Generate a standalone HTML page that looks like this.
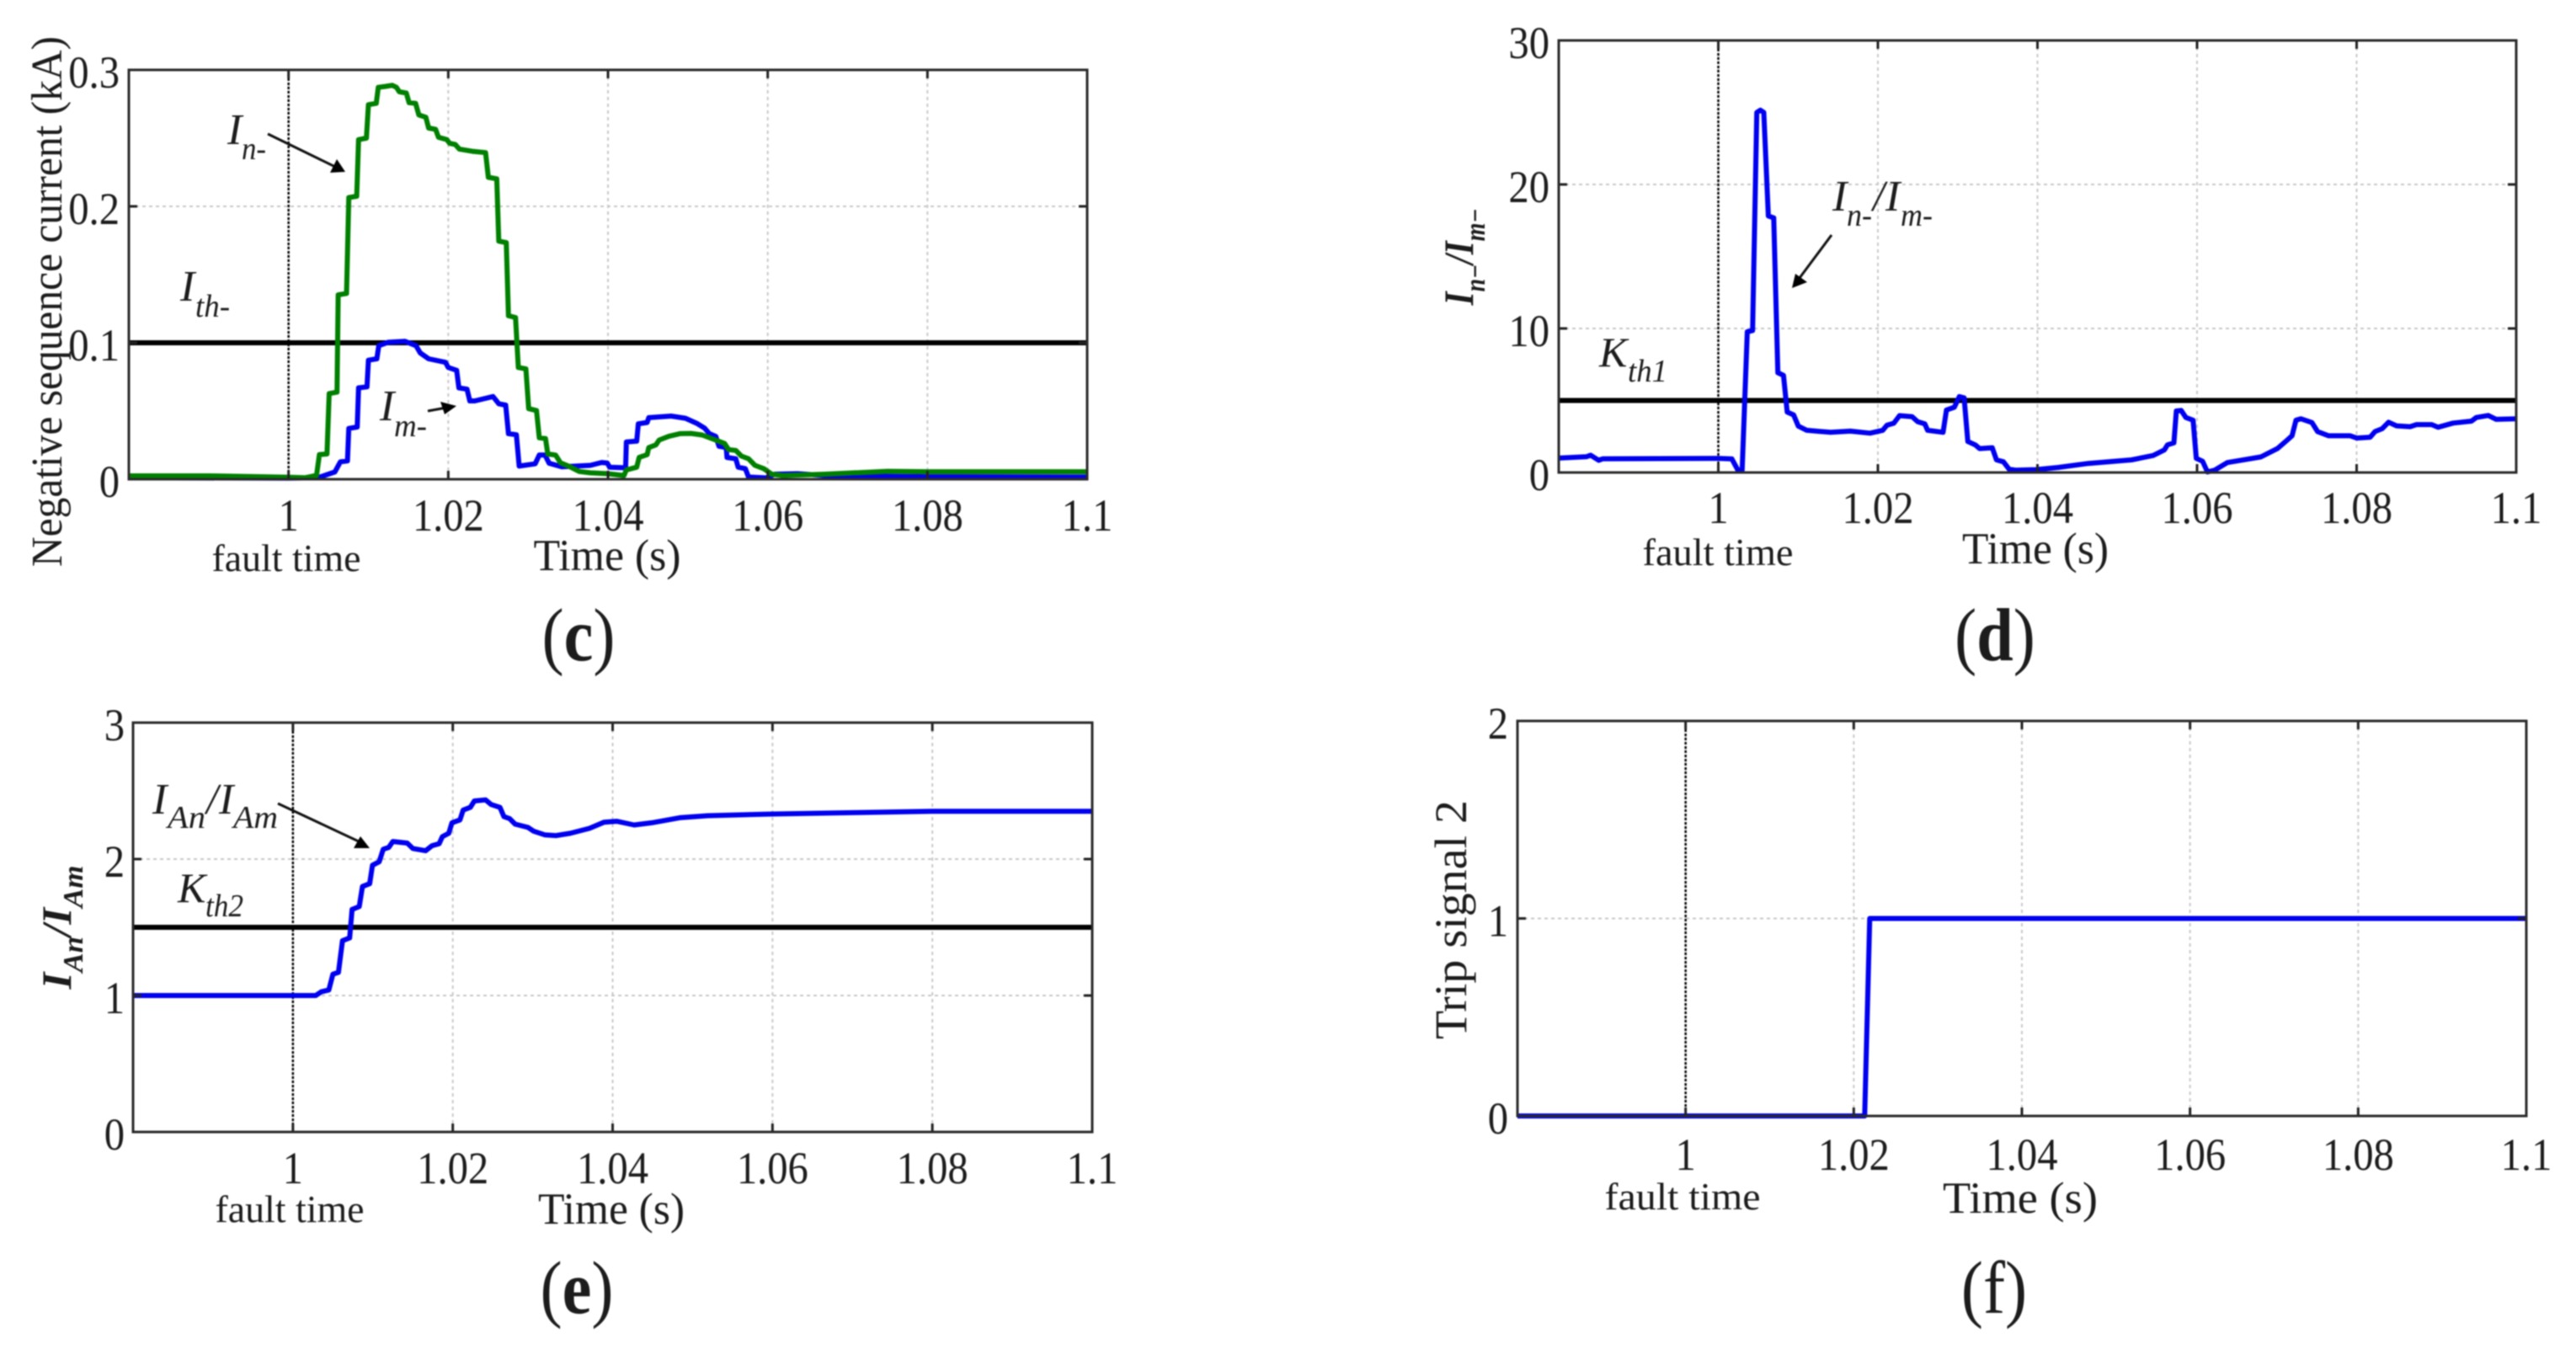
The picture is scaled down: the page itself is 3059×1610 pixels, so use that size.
<!DOCTYPE html>
<html lang="en">
<head>
<meta charset="utf-8">
<title>Fault protection signals</title>
<style>
html,body{margin:0;padding:0;background:#fff;}
svg{display:block;filter:blur(0.8px);}
text{font-family:"Liberation Serif",serif;fill:#1c1c1c;}
.it{font-style:italic;}
</style>
</head>
<body>
<svg id="figure" xmlns="http://www.w3.org/2000/svg" width="3059" height="1610" viewBox="0 0 3059 1610">
<rect width="3059" height="1610" fill="#fff"/>
<g id="charts"></g>

<!-- Panel c annotations -->
<g>
<text class="it" x="270" y="171" font-size="52">I</text>
<text class="it" x="287" y="189" font-size="38" textLength="29" lengthAdjust="spacingAndGlyphs">n-</text>
<line x1="318" y1="159" x2="400" y2="199" stroke="#111" stroke-width="3"/>
<polygon points="392,205 400,189 410,204" fill="#000"/>
</g>
<g>
<text class="it" x="214" y="357" font-size="52">I</text>
<text class="it" x="232" y="376" font-size="38" textLength="41" lengthAdjust="spacingAndGlyphs">th-</text>
</g>
<g>
<text class="it" x="451" y="499" font-size="52">I</text>
<text class="it" x="468" y="518" font-size="38" textLength="39" lengthAdjust="spacingAndGlyphs">m-</text>
<line x1="508" y1="488" x2="530" y2="484" stroke="#111" stroke-width="3"/>
<polygon points="523,477 542,482 528,492" fill="#000"/>
</g>

<!-- Panel d annotations -->
<g>
<text class="it" x="2176" y="250" font-size="52">I</text>
<text class="it" x="2193" y="268" font-size="38" textLength="30" lengthAdjust="spacingAndGlyphs">n-</text>
<text class="it" x="2224" y="250" font-size="52" textLength="14" lengthAdjust="spacingAndGlyphs">/</text>
<text class="it" x="2239" y="250" font-size="52">I</text>
<text class="it" x="2257" y="268" font-size="38" textLength="38" lengthAdjust="spacingAndGlyphs">m-</text>
<line x1="2175" y1="279" x2="2137" y2="330" stroke="#111" stroke-width="3"/>
<polygon points="2128,342 2132,325 2146,335" fill="#000"/>
</g>
<g>
<text class="it" x="1899" y="435" font-size="50">K</text>
<text class="it" x="1933" y="453" font-size="38" textLength="47" lengthAdjust="spacingAndGlyphs">th1</text>
</g>

<!-- Panel e annotations -->
<g>
<text class="it" x="181" y="966" font-size="52">I</text>
<text class="it" x="199" y="983" font-size="38" textLength="45" lengthAdjust="spacingAndGlyphs">An</text>
<text class="it" x="245" y="966" font-size="52" textLength="14" lengthAdjust="spacingAndGlyphs">/</text>
<text class="it" x="260" y="966" font-size="52">I</text>
<text class="it" x="277" y="983" font-size="38" textLength="53" lengthAdjust="spacingAndGlyphs">Am</text>
<line x1="330" y1="954" x2="428" y2="1000" stroke="#111" stroke-width="3"/>
<polygon points="420,1007 428,993 439,1007" fill="#000"/>
</g>
<g>
<text class="it" x="211" y="1071" font-size="50">K</text>
<text class="it" x="244" y="1088" font-size="38" textLength="45" lengthAdjust="spacingAndGlyphs">th2</text>
</g>

<!-- Y axis titles -->
<text transform="translate(73,358) rotate(-90)" text-anchor="middle" font-size="52" textLength="630" lengthAdjust="spacingAndGlyphs">Negative sequence current (kA)</text>
<text transform="translate(1749,305) rotate(-90)" text-anchor="middle" font-size="50" font-weight="700" font-style="italic" textLength="115" lengthAdjust="spacingAndGlyphs">I<tspan font-size="34" dy="14">n−</tspan><tspan dy="-14">/I</tspan><tspan font-size="34" dy="14">m−</tspan></text>
<text transform="translate(84,1101) rotate(-90)" text-anchor="middle" font-size="50" font-weight="700" font-style="italic" textLength="147" lengthAdjust="spacingAndGlyphs">I<tspan font-size="34" dy="14">An</tspan><tspan dy="-14">/I</tspan><tspan font-size="34" dy="14">Am</tspan></text>
<text transform="translate(1741,1092) rotate(-90)" text-anchor="middle" font-size="54" textLength="284" lengthAdjust="spacingAndGlyphs">Trip signal 2</text>

<!-- Fault time labels and x axis titles -->
<text x="340" y="678" text-anchor="middle" font-size="46" textLength="177" lengthAdjust="spacingAndGlyphs">fault time</text>
<text x="2040" y="671" text-anchor="middle" font-size="46" textLength="179" lengthAdjust="spacingAndGlyphs">fault time</text>
<text x="344" y="1451" text-anchor="middle" font-size="46" textLength="177" lengthAdjust="spacingAndGlyphs">fault time</text>
<text x="1998" y="1436" text-anchor="middle" font-size="46" textLength="185" lengthAdjust="spacingAndGlyphs">fault time</text>
<text x="721" y="677" text-anchor="middle" font-size="53" textLength="175" lengthAdjust="spacingAndGlyphs">Time (s)</text>
<text x="2417" y="669" text-anchor="middle" font-size="53" textLength="174" lengthAdjust="spacingAndGlyphs">Time (s)</text>
<text x="726" y="1453" text-anchor="middle" font-size="53" textLength="174" lengthAdjust="spacingAndGlyphs">Time (s)</text>
<text x="2399" y="1440" text-anchor="middle" font-size="53" textLength="184" lengthAdjust="spacingAndGlyphs">Time (s)</text>

<!-- Panel captions -->
<text transform="translate(687,784) scale(0.88,1)" text-anchor="middle" font-size="89">(<tspan font-weight="700">c</tspan>)</text>
<text transform="translate(2369,784) scale(0.88,1)" text-anchor="middle" font-size="89">(<tspan font-weight="700">d</tspan>)</text>
<text transform="translate(685,1559) scale(0.88,1)" text-anchor="middle" font-size="89">(<tspan font-weight="700">e</tspan>)</text>
<text transform="translate(2368,1559) scale(0.88,1)" text-anchor="middle" font-size="89">(f)</text>
</svg>

<script>
// Shared axis values
const xTicks = [1, 1.02, 1.04, 1.06, 1.08, 1.1];
const xTickLabels = ['1', '1.02', '1.04', '1.06', '1.08', '1.1'];
const xMin = 0.98;
const xMax = 1.1;
const faultTime = 1;

// Panel c values
const cYTicks = [0, 0.1, 0.2, 0.3];
const cYTickLabels = ['0', '0.1', '0.2', '0.3'];
const cThreshold = 0.1;
const cBlueTime = [0.98,1.0,1.00368,1.00579,1.00649,1.00737,1.00754,1.0086,1.00877,1.00982,1.01,1.01105,1.0113,1.01246,1.01456,1.01596,1.01649,1.01754,1.01965,1.02,1.02105,1.02133,1.02235,1.0227,1.02333,1.02561,1.02632,1.02719,1.02754,1.02853,1.02888,1.03088,1.0314,1.03211,1.03263,1.03421,1.0378,1.0392,1.0399,1.0402,1.0422,1.0423,1.0436,1.0438,1.0449,1.0451,1.0479,1.0497,1.0511,1.0521,1.0527,1.0535,1.0539,1.0548,1.0549,1.056,1.0563,1.0572,1.0576,1.0598,1.0609,1.0637,1.0672,1.08,1.1];
const cBlueValue = [0.001,0.0008,0.0011,0.0053,0.0128,0.0134,0.0372,0.0383,0.067,0.0677,0.0872,0.0883,0.0979,0.1004,0.1011,0.0979,0.0926,0.0883,0.0857,0.0819,0.0798,0.067,0.066,0.0574,0.0574,0.0606,0.0553,0.0543,0.0334,0.0326,0.0096,0.0113,0.0177,0.0177,0.0117,0.0091,0.0102,0.0123,0.0119,0.0088,0.0084,0.0273,0.0279,0.0406,0.0416,0.0451,0.0463,0.0447,0.041,0.0375,0.0334,0.0314,0.0242,0.0232,0.016,0.015,0.0088,0.0078,0.0016,0.001,0.0037,0.0041,0.0027,0.0018,0.0016];
const cGreenTime = [0.98,0.99,1.0,1.0021,1.0035,1.00386,1.00481,1.00509,1.00607,1.00621,1.00726,1.00754,1.00853,1.00877,1.00975,1.01,1.01098,1.01123,1.01211,1.01298,1.01351,1.01386,1.01474,1.01509,1.0159,1.01632,1.01719,1.01754,1.01842,1.01877,1.01982,1.02018,1.02088,1.0214,1.02298,1.02467,1.02502,1.02607,1.02632,1.02726,1.02754,1.02842,1.02877,1.02972,1.03007,1.03105,1.0314,1.03218,1.03246,1.03344,1.03404,1.03526,1.0364,1.0378,1.0399,1.042,1.0423,1.0436,1.0439,1.0449,1.0451,1.046,1.0464,1.0476,1.049,1.0504,1.0518,1.0532,1.0546,1.0551,1.056,1.0567,1.0576,1.0584,1.0595,1.0605,1.0619,1.0672,1.075,1.08,1.1];
const cGreenValue = [0.0025,0.0025,0.0015,0.0011,0.0028,0.0181,0.0185,0.0628,0.0638,0.1351,0.1362,0.2064,0.2074,0.2489,0.25,0.2745,0.2755,0.2872,0.2879,0.2887,0.2872,0.284,0.283,0.276,0.2755,0.267,0.2653,0.2574,0.2564,0.2506,0.2489,0.2462,0.2453,0.2419,0.2404,0.2394,0.2213,0.2202,0.1745,0.1734,0.1198,0.1185,0.0819,0.0809,0.0517,0.0504,0.0304,0.0298,0.0185,0.0177,0.0121,0.0091,0.0057,0.0047,0.0041,0.0027,0.0068,0.0088,0.016,0.018,0.0232,0.0252,0.0287,0.0314,0.0334,0.0336,0.0324,0.0293,0.0262,0.0217,0.0211,0.017,0.015,0.0102,0.0078,0.0037,0.0027,0.0037,0.0058,0.0055,0.0055];

// Panel d values
const dYTicks = [0, 10, 20, 30];
const dYTickLabels = ['0', '10', '20', '30'];
const dThreshold = 5;
const dRatioTime = [0.98,0.9835,0.984,0.985,0.9855,1.0,1.0017,1.00246,1.00299,1.00363,1.0043,1.00482,1.00528,1.0057,1.00627,1.00694,1.00746,1.00817,1.00863,1.00944,1.01003,1.01109,1.01408,1.01655,1.01901,1.0206,1.02113,1.022,1.02271,1.0243,1.025,1.02588,1.02623,1.02817,1.02859,1.02958,1.03021,1.03081,1.03127,1.03222,1.03275,1.03433,1.03486,1.03574,1.03644,1.03732,1.03979,1.0426,1.0464,1.0518,1.0545,1.0559,1.0563,1.0571,1.0574,1.058,1.0586,1.0595,1.0599,1.0607,1.0613,1.0622,1.0638,1.068,1.0701,1.0713,1.0719,1.0724,1.073,1.0744,1.0751,1.0765,1.0792,1.08,1.0817,1.0823,1.0832,1.084,1.085,1.0867,1.0875,1.0894,1.0902,1.0921,1.0944,1.095,1.0965,1.0975,1.1];
const dRatioValue = [1.0,1.1,1.2,0.85,0.95,0.98,0.94,0.16,0.16,9.77,9.86,25,25.16,25,17.81,17.68,6.93,6.74,4.2,4.0,3.22,2.93,2.79,2.87,2.73,2.93,3.28,3.42,3.95,3.87,3.52,3.38,2.93,2.79,4.34,4.53,5.27,5.18,2.15,1.91,1.66,1.72,0.88,0.74,0.23,0.16,0.2,0.35,0.63,0.88,1.18,1.57,1.92,2.06,4.27,4.31,3.82,3.63,0.98,0.78,0.04,0.16,0.69,1.08,1.67,2.25,2.55,3.63,3.73,3.47,2.84,2.55,2.55,2.39,2.45,2.84,3.04,3.49,3.24,3.18,3.33,3.33,3.14,3.43,3.57,3.82,3.96,3.69,3.73];

// Panel e values
const eYTicks = [0, 1, 2, 3];
const eYTickLabels = ['0', '1', '2', '3'];
const eThreshold = 1.5;
const eRatioTime = [0.98,1.00285,1.00355,1.0045,1.005,1.0057,1.0062,1.0071,1.0074,1.0083,1.0087,1.0096,1.00995,1.0108,1.0113,1.012,1.0125,1.0143,1.015,1.0166,1.0174,1.0183,1.0187,1.0195,1.0199,1.0209,1.0213,1.0222,1.0227,1.0241,1.0248,1.0259,1.0264,1.0271,1.0278,1.0294,1.0301,1.0315,1.0329,1.0347,1.0371,1.0389,1.0405,1.0427,1.0449,1.0484,1.0519,1.06,1.07,1.08,1.09,1.1];
const eRatioValue = [1.0,1.0,1.027,1.041,1.156,1.17,1.402,1.422,1.631,1.652,1.799,1.82,1.955,1.98,2.072,2.086,2.129,2.117,2.078,2.061,2.098,2.113,2.164,2.189,2.266,2.287,2.359,2.379,2.426,2.434,2.4,2.379,2.311,2.297,2.256,2.232,2.205,2.178,2.172,2.189,2.225,2.27,2.277,2.25,2.266,2.303,2.318,2.33,2.34,2.35,2.35,2.35];

// Panel f values
const fYTicks = [0, 1, 2];
const fYTickLabels = ['0', '1', '2'];
const fTripTime = [0.98, 1.0213, 1.0219, 1.1];
const fTripValue = [0, 0, 1, 1];

const SVG_NS = 'http://www.w3.org/2000/svg';
const root = document.getElementById('charts');

function mk(parent, tag, attrs) {
  const el = document.createElementNS(SVG_NS, tag);
  for (const k in attrs) el.setAttribute(k, attrs[k]);
  parent.appendChild(el);
  return el;
}
function xScale(p, t) { return p.left + (t - xMin) / (xMax - xMin) * (p.right - p.left); }
function yScale(p, v) { return p.bottom - v / p.yMax * (p.bottom - p.top); }

function drawAxes(p, group, yTicks, yLabels) {
  for (let i = 0; i < xTicks.length; i++) {
    const x = xScale(p, xTicks[i]);
    const gl = mk(group, 'line', {x1: x, x2: x, y1: p.top, y2: p.bottom, stroke: '#c8c8c8', 'stroke-width': 2, 'stroke-dasharray': '4 4'});
    
    
  }
  for (let i = 0; i < yTicks.length; i++) {
    const y = yScale(p, yTicks[i]);
    const gl = mk(group, 'line', {x1: p.left, x2: p.right, y1: y, y2: y, stroke: '#c8c8c8', 'stroke-width': 2, 'stroke-dasharray': '4 4'});
    
    
  }
  const fx = xScale(p, faultTime);
  const fl = mk(group, 'line', {x1: fx, x2: fx, y1: p.top, y2: p.bottom, stroke: '#000', 'stroke-width': 2.5, 'stroke-dasharray': '3 2'});
  
  
}

function drawFrame(p, group, yTicks, yLabels) {
  for (let i = 0; i < xTicks.length; i++) {
    const x = xScale(p, xTicks[i]);
    const t1 = mk(group, 'line', {x1: x, x2: x, y1: p.bottom, y2: p.bottom - 10, stroke: '#222', 'stroke-width': 3});
    
    
    const t2 = mk(group, 'line', {x1: x, x2: x, y1: p.top, y2: p.top + 10, stroke: '#222', 'stroke-width': 3});
    
    
    const lab = mk(group, 'text', {transform: 'translate(' + x + ',' + p.xLabelY + ') scale(0.9,1)', 'text-anchor': 'middle', 'font-size': 54});
    lab.textContent = xTickLabels[i];
    
    
  }
  for (let i = 0; i < yTicks.length; i++) {
    const y = yScale(p, yTicks[i]);
    const t1 = mk(group, 'line', {x1: p.left, x2: p.left + 10, y1: y, y2: y, stroke: '#222', 'stroke-width': 3});
    
    
    const t2 = mk(group, 'line', {x1: p.right, x2: p.right - 10, y1: y, y2: y, stroke: '#222', 'stroke-width': 3});
    
    
    const lab = mk(group, 'text', {transform: 'translate(' + p.yLabelX + ',' + (y + 21) + ') scale(0.9,1)', 'text-anchor': 'end', 'font-size': 54});
    lab.textContent = yLabels[i];
    
    
  }
  const frame = mk(group, 'rect', {x: p.left, y: p.top, width: p.right - p.left, height: p.bottom - p.top, fill: 'none', stroke: '#2a2a2a', 'stroke-width': 3});
  
  
}

function drawThreshold(p, group, v) {
  const y = yScale(p, v);
  return mk(group, 'line', {x1: p.left, x2: p.right, y1: y, y2: y, stroke: '#000', 'stroke-width': 6});
}

function drawSeries(p, group, times, values, color) {
  const pts = times.map(function (t, i) {
    return xScale(p, t).toFixed(1) + ',' + yScale(p, values[i]).toFixed(1);
  }).join(' ');
  return mk(group, 'polyline', {points: pts, fill: 'none', stroke: color, 'stroke-width': 6, 'stroke-linejoin': 'round'});
}

const BLUE = '#0000f0';
const GREEN = '#008000';

// Panel c
const panelC = {left: 153, right: 1291, top: 83, bottom: 569, yMax: 0.3, xLabelY: 630, yLabelX: 142};
const gC = mk(root, 'g', {});


drawAxes(panelC, gC, cYTicks, cYTickLabels);
const thC = drawThreshold(panelC, gC, cThreshold);


const imLine = drawSeries(panelC, gC, cBlueTime, cBlueValue, BLUE);


const inLine = drawSeries(panelC, gC, cGreenTime, cGreenValue, GREEN);


drawFrame(panelC, gC, cYTicks, cYTickLabels);

// Panel d
const panelD = {left: 1851, right: 2988, top: 48, bottom: 561, yMax: 30, xLabelY: 621, yLabelX: 1840};
const gD = mk(root, 'g', {});


drawAxes(panelD, gD, dYTicks, dYTickLabels);
const thD = drawThreshold(panelD, gD, dThreshold);


const ratioD = drawSeries(panelD, gD, dRatioTime, dRatioValue, BLUE);


drawFrame(panelD, gD, dYTicks, dYTickLabels);

// Panel e
const panelE = {left: 158, right: 1297, top: 858, bottom: 1344, yMax: 3, xLabelY: 1405, yLabelX: 148};
const gE = mk(root, 'g', {});


drawAxes(panelE, gE, eYTicks, eYTickLabels);
const thE = drawThreshold(panelE, gE, eThreshold);


const ratioE = drawSeries(panelE, gE, eRatioTime, eRatioValue, BLUE);


drawFrame(panelE, gE, eYTicks, eYTickLabels);

// Panel f
const panelF = {left: 1802, right: 3000, top: 856, bottom: 1325, yMax: 2, xLabelY: 1389, yLabelX: 1791};
const gF = mk(root, 'g', {});


drawAxes(panelF, gF, fYTicks, fYTickLabels);
const tripLine = drawSeries(panelF, gF, fTripTime, fTripValue, BLUE);


drawFrame(panelF, gF, fYTicks, fYTickLabels);
</script>
</body>
</html>
